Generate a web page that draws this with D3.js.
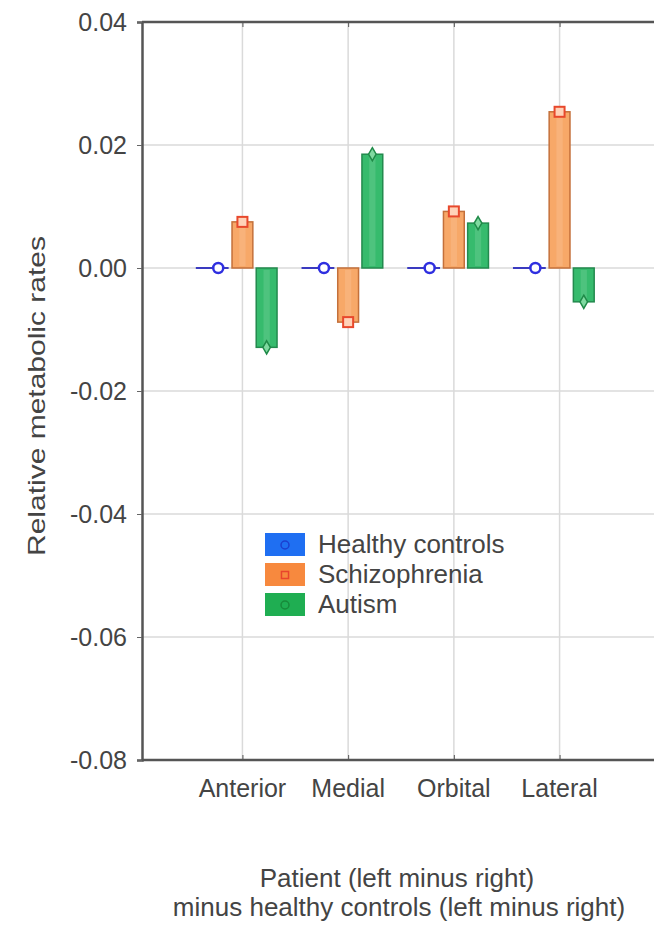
<!DOCTYPE html>
<html>
<head>
<meta charset="utf-8">
<script src="https://cdn.jsdelivr.net/npm/d3@7"></script>
<style>
  body { margin: 0; background: #fff; }
  text { font-family: "Liberation Sans", Arial, sans-serif; fill: #444; }
</style>
</head>
<body>
<svg id="chart" width="654" height="927"></svg>
<script>
// data
const categories = ['Anterior', 'Medial', 'Orbital', 'Lateral'];
const seriesNames = ['Healthy controls', 'Schizophrenia', 'Autism'];
const healthy = [0, 0, 0, 0];
const schizophrenia = [0.0075, -0.0088, 0.0092, 0.0254];
const autism = [-0.0129, 0.0185, 0.0073, -0.0055];
const yTicks = [0.04, 0.02, 0, -0.02, -0.04, -0.06, -0.08];

const seriesValues = [healthy, schizophrenia, autism];
const fills = ['#2a6ef0', '#f7a868', '#36bb6d'];
const strokes = ['#3535c8', '#c4703a', '#238a4e'];
const legendFills = ['#1f6ff2', '#f7893e', '#1fae52'];
const legendDots = ['#1b3fd0', '#e8452c', '#178a3a'];

const plotLeft = 142;
const plotTop = 22;
const plotBottom = 760;
const plotRight = 660;

const svg = d3.select('#chart');

const y = d3.scaleLinear()
  .domain([-0.08, 0.04])
  .range([plotBottom, plotTop]);

const x = d3.scalePoint()
  .domain(categories)
  .range([plotLeft, plotRight])
  .padding(0.95);

// offsets of the three bars inside a group
const sub = d3.scaleBand()
  .domain(seriesNames)
  .range([-38, 38])
  .padding(0.14);

// grid
svg.append('g')
  .selectAll('line')
  .data(yTicks.filter((t) => t !== 0.04 && t !== -0.08))
  .join('line')
  .attr('x1', plotLeft)
  .attr('x2', plotRight)
  .attr('y1', (d) => y(d))
  .attr('y2', (d) => y(d))
  .attr('stroke', '#dadada')
  .attr('stroke-width', 1.5);

svg.append('g')
  .selectAll('line')
  .data(categories)
  .join('line')
  .attr('x1', (d) => x(d))
  .attr('x2', (d) => x(d))
  .attr('y1', plotTop)
  .attr('y2', plotBottom)
  .attr('stroke', '#dadada')
  .attr('stroke-width', 1.5);

// y axis
svg.append('g')
  .attr('transform', `translate(${plotLeft},0)`)
  .call(d3.axisLeft(y).tickValues(yTicks).tickSize(5).tickPadding(10))
  .call((g) => g.select('.domain').attr('stroke', '#555').attr('stroke-width', 2.5))
  .call((g) => g.selectAll('.tick line').attr('stroke', '#666'))
  .call((g) => g.selectAll('.tick text')
    .attr('fill', '#505050')
    .style('font-size', '25px')
    .text((d) => d.toFixed(2)));

// top and bottom frame lines with inward ticks
svg.append('g')
  .attr('transform', `translate(0,${plotTop})`)
  .call(d3.axisBottom(x).tickSize(5).tickFormat(''))
  .call((g) => g.select('.domain').attr('d', `M${plotLeft},0H${plotRight}`).attr('stroke', '#555').attr('stroke-width', 2.5))
  .call((g) => g.selectAll('.tick line').attr('stroke', '#555'));

svg.append('g')
  .attr('transform', `translate(0,${plotBottom})`)
  .call(d3.axisTop(x).tickSize(5).tickFormat(''))
  .call((g) => g.select('.domain').attr('d', `M${plotLeft},0H${plotRight}`).attr('stroke', '#555').attr('stroke-width', 2.5))
  .call((g) => g.selectAll('.tick line').attr('stroke', '#555'));

// category labels
svg.append('g')
  .selectAll('text')
  .data(categories)
  .join('text')
  .attr('x', (d) => x(d))
  .attr('y', 797)
  .attr('text-anchor', 'middle')
  .style('font-size', '25px')
  .text((d) => d);

// bars
const groups = svg.append('g')
  .selectAll('g')
  .data(categories)
  .join('g')
  .attr('transform', (d) => `translate(${x(d)},0)`);

seriesNames.forEach((name, si) => {
  const vals = seriesValues[si];
  const bx = sub(name);
  const bw = sub.bandwidth();
  groups.append('rect')
    .attr('x', bx)
    .attr('width', bw)
    .attr('y', (d, i) => Math.min(y(vals[i]), y(0)))
    .attr('height', (d, i) => Math.abs(y(vals[i]) - y(0)))
    .attr('fill', fills[si])
    .attr('stroke', strokes[si])
    .attr('stroke-width', 1.5);
  // lighter highlight strip inside the bar
  if (si > 0) {
    groups.append('rect')
      .attr('x', bx + bw * 0.35)
      .attr('width', bw * 0.3)
      .attr('y', (d, i) => Math.min(y(vals[i]), y(0)) + 2)
      .attr('height', (d, i) => Math.max(0, Math.abs(y(vals[i]) - y(0)) - 4))
      .attr('fill', '#fff')
      .attr('opacity', 0.12);
  }
});

// healthy controls: zero-height bar shown as a line plus circle marker
groups.append('line')
  .attr('x1', sub('Healthy controls') - 12)
  .attr('x2', sub('Healthy controls') + sub.bandwidth())
  .attr('y1', (d, i) => y(healthy[i]))
  .attr('y2', (d, i) => y(healthy[i]))
  .attr('stroke', '#3a3ac0')
  .attr('stroke-width', 2);

groups.append('circle')
  .attr('cx', sub('Healthy controls') + sub.bandwidth() / 2)
  .attr('cy', (d, i) => y(healthy[i]))
  .attr('r', 5)
  .attr('fill', '#fff')
  .attr('stroke', '#2f2fe0')
  .attr('stroke-width', 2.5);

groups.append('rect')
  .attr('x', sub('Schizophrenia') + sub.bandwidth() / 2 - 5)
  .attr('y', (d, i) => y(schizophrenia[i]) - 5)
  .attr('width', 10)
  .attr('height', 10)
  .attr('fill', '#ffd2b8')
  .attr('stroke', '#e8482c')
  .attr('stroke-width', 2);

groups.append('path')
  .attr('transform', (d, i) => `translate(${sub('Autism') + sub.bandwidth() / 2},${y(autism[i])})`)
  .attr('d', d3.symbol(d3.symbolDiamond, 50))
  .attr('fill', '#7fd9a0')
  .attr('stroke', '#1f8a48')
  .attr('stroke-width', 1.5);

// legend
const legend = svg.append('g')
  .attr('transform', 'translate(265,533)');

legend.selectAll('g')
  .data(seriesNames)
  .join('g')
  .attr('transform', (d, i) => `translate(0,${i * 30})`)
  .call((g) => g.append('rect')
    .attr('width', 40)
    .attr('height', 23)
    .attr('fill', (d, i) => legendFills[i]))
  .call((g) => g.append('path')
    .attr('transform', 'translate(20,12)')
    .attr('d', (d, i) => d3.symbol(i === 1 ? d3.symbolSquare : d3.symbolCircle, 50)())
    .attr('fill', 'none')
    .attr('stroke', (d, i) => legendDots[i])
    .attr('stroke-width', 1.5))
  .call((g) => g.append('text')
    .attr('x', 53)
    .attr('y', 20)
    .style('font-size', '26px')
    .text((d) => d));

// axis titles
svg.append('text')
  .attr('transform', 'translate(45,396) rotate(-90) scale(1.25,1)')
  .attr('text-anchor', 'middle')
  .style('font-size', '24px')
  .text('Relative metabolic rates');

svg.append('text')
  .attr('x', 397)
  .attr('y', 887)
  .attr('text-anchor', 'middle')
  .style('font-size', '26px')
  .text('Patient (left minus right)');

svg.append('text')
  .attr('x', 399)
  .attr('y', 916)
  .attr('text-anchor', 'middle')
  .style('font-size', '26px')
  .text('minus healthy controls (left minus right)');
</script>
</body>
</html>
